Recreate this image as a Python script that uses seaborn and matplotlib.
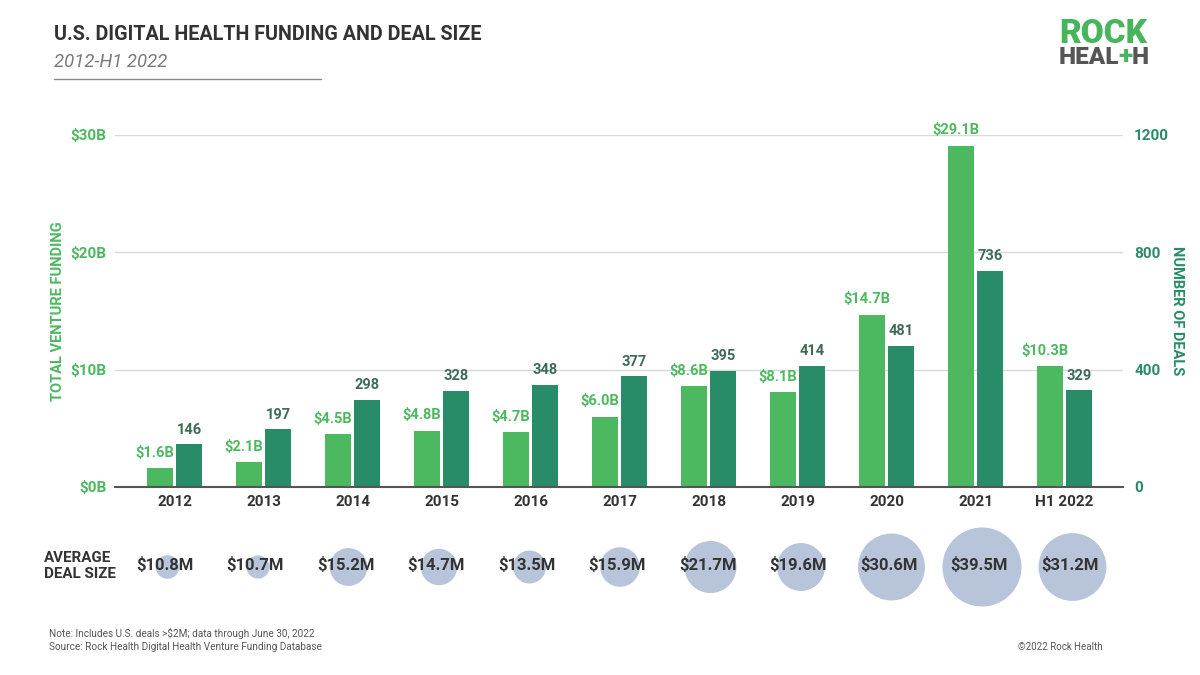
import matplotlib
matplotlib.use("Agg")
import matplotlib.pyplot as plt
import seaborn as sns
import pandas as pd
import numpy as np

# ---- data ----
years = ["2012", "2013", "2014", "2015", "2016", "2017", "2018", "2019", "2020", "2021", "H1 2022"]
funding_b = [1.6, 2.1, 4.5, 4.8, 4.7, 6.0, 8.6, 8.1, 14.7, 29.1, 10.3]
deals = [146, 197, 298, 328, 348, 377, 395, 414, 481, 736, 329]
avg_deal_m = [10.8, 10.7, 15.2, 14.7, 13.5, 15.9, 21.7, 19.6, 30.6, 39.5, 31.2]
left_ticks = [0, 10, 20, 30]
right_ticks = [0, 400, 800, 1200]

LIGHT = "#4CB960"
DARK = "#278C67"
DEALTXT = "#3E6B55"
BUBBLE = "#B7C4DA"
TXT = "#333333"

sns.set_theme(style="white")
plt.rcParams["font.family"] = ["Roboto", "DejaVu Sans"]

fig = plt.figure(figsize=(12, 6.75), dpi=100)
fig.patch.set_facecolor("white")

W, H = 1200, 675
def fx(px): return px / W
def fy(py): return 1 - py / H

ax_l, ax_r, ax_t, ax_b = 115, 1123, 135, 487
ax = fig.add_axes([fx(ax_l), fy(ax_b), fx(ax_r - ax_l), (ax_b - ax_t) / H])
ax2 = ax.twinx()
# funding axis drawn on top so its labels are not hidden by the deal bars
ax.set_zorder(ax2.get_zorder() + 1)
ax.patch.set_visible(False)

df_f = pd.DataFrame({"year": years * 2,
                     "series": ["funding"] * len(years) + ["deals"] * len(years),
                     "val": funding_b + [0] * len(years)})
df_d = pd.DataFrame({"year": years * 2,
                     "series": ["funding"] * len(years) + ["deals"] * len(years),
                     "val": [0] * len(years) + deals})
pal = {"funding": LIGHT, "deals": DARK}
sns.barplot(data=df_f, x="year", y="val", hue="series", hue_order=["funding", "deals"],
            palette=pal, width=0.65, gap=0.1, ax=ax, legend=False, saturation=1,
            linewidth=0, errorbar=None)
sns.barplot(data=df_d, x="year", y="val", hue="series", hue_order=["funding", "deals"],
            palette=pal, width=0.65, gap=0.1, ax=ax2, legend=False, saturation=1,
            linewidth=0, errorbar=None)

xlim = (-0.67, 10.656)
ax.set_xlim(*xlim)
ax.set_ylim(0, 30)
ax2.set_ylim(0, 1200)

flabels = ax.bar_label(ax.containers[0], labels=[f"${v:.1f}B" for v in funding_b], padding=6,
                       color=LIGHT, fontsize=10.5, fontweight="bold")
for t in flabels:
    t.xyann = (-3.6, 6)
ax2.bar_label(ax2.containers[1], labels=[str(v) for v in deals], padding=5.5,
              color=DEALTXT, fontsize=10.5, fontweight="bold")

for a in (ax, ax2):
    for s in a.spines.values():
        s.set_visible(False)
    a.set_xlabel("")
    a.grid(False)
ax.spines["bottom"].set_visible(True)
ax.spines["bottom"].set_color("#555555")
ax.spines["bottom"].set_linewidth(1.5)
ax.set_yticks(left_ticks)
ax.set_yticklabels([f"${v}B" for v in left_ticks])
ax2.set_yticks(right_ticks)
ax2.set_yticklabels([str(v) for v in right_ticks])
for v in right_ticks[1:]:
    ax2.axhline(v, color="#D9D9D9", lw=1, zorder=0)
ax2.set_axisbelow(True)
ax.tick_params(axis="y", length=0, pad=6, labelsize=11, labelcolor=LIGHT)
ax2.tick_params(axis="y", length=0, pad=8, labelsize=11, labelcolor=DARK)
for t in ax.get_yticklabels():
    t.set_fontweight("bold")
for t in ax2.get_yticklabels():
    t.set_fontweight("bold")
ax.tick_params(axis="x", length=0, pad=6, labelsize=11, labelcolor=TXT)
for t in ax.get_xticklabels():
    t.set_fontweight("bold")
ax2.tick_params(axis="x", length=0)

ax.set_ylabel("TOTAL VENTURE FUNDING", color=LIGHT, fontsize=10.5, fontweight="bold")
ax.yaxis.set_label_coords((65 - ax_l) / (ax_r - ax_l), 0.5)
ax2.set_ylabel("NUMBER OF DEALS", color=DARK, fontsize=10.5, fontweight="bold", rotation=-90)
ax2.yaxis.set_label_coords((1184 - ax_l) / (ax_r - ax_l), 0.5)

# ---- bubbles ----
b0, bstep = 167.5, 90.5
bx = fig.add_axes([fx(ax_l), fy(614), fx(ax_r - ax_l), 94 / H])
sns.scatterplot(x=np.arange(len(years)), y=np.zeros(len(years)), size=avg_deal_m,
                sizes=(0, 3235), size_norm=(8, 39.5), color=BUBBLE, linewidth=0,
                alpha=1, legend=False, ax=bx)
bx.set_xlim((ax_l - b0) / bstep, (ax_r - b0) / bstep)
bx.set_ylim(-1, 1)
bx.axis("off")
for i, v in enumerate(avg_deal_m):
    bx.text(i - 0.03, 0.04, f"${v:.1f}M", ha="center", va="center", fontsize=12,
            fontweight="bold", color=TXT)

# ---- overlay text ----
ov = fig.add_axes([0, 0, 1, 1], zorder=-1)
ov.set_xlim(0, W)
ov.set_ylim(H, 0)
ov.axis("off")
ov.text(54, 35, "U.S. DIGITAL HEALTH FUNDING AND DEAL SIZE", fontsize=14.2, fontweight="bold",
        color=TXT, va="center", ha="left")
ov.text(54, 62, "2012-H1 2022", fontsize=13.3, fontstyle="italic", color="#7A7A7A",
        va="center", ha="left")
ov.plot([54, 321], [79, 79], color="#888888", lw=1)

ov.text(44, 566, "AVERAGE\nDEAL SIZE", fontsize=10.9, fontweight="bold", color=TXT,
        va="center", ha="left", linespacing=1.2)

ov.text(49, 633, "Note: Includes U.S. deals >$2M; data through June 30, 2022", fontsize=7.2,
        color="#555555", va="center", ha="left")
ov.text(49, 647, "Source: Rock Health Digital Health Venture Funding Database", fontsize=7.2,
        color="#555555", va="center", ha="left")
ov.text(1102, 647, "\u00a92022 Rock Health", fontsize=7, color="#555555", va="center", ha="right")

# logo
ov.text(1059, 34, "ROCK", fontsize=24, fontweight="heavy", color="#47B55C", va="center", ha="left")
t1 = ov.text(1059, 57.5, "HEAL", fontsize=17.5, fontweight="heavy", color="#555555",
             va="center", ha="left")
t2 = ov.annotate("+", xy=(1, 0.5), xycoords=t1, xytext=(-0.8, 0), textcoords="offset points",
                 va="center", ha="left", fontsize=19, fontweight="heavy", color="#47B55C")
ov.annotate("H", xy=(1, 0.5), xycoords=t2, xytext=(-0.8, 0), textcoords="offset points",
            va="center", ha="left", fontsize=17.5, fontweight="heavy", color="#555555")

fig.savefig("out.png", dpi=100, facecolor="white")
